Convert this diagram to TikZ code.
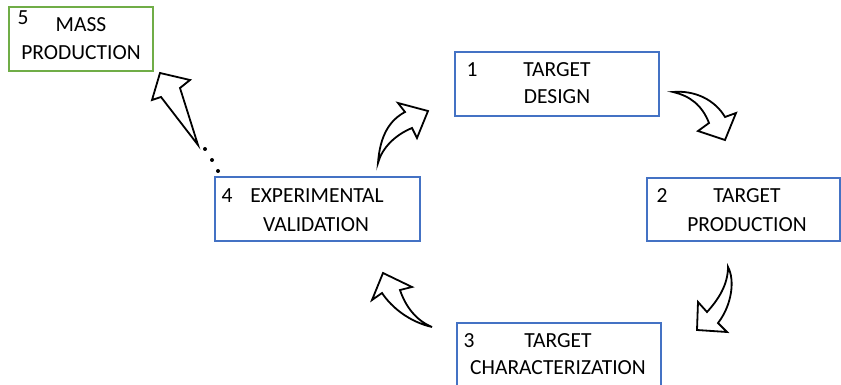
\documentclass[tikz,border=0pt]{standalone}
\usepackage{fontspec}
\setmainfont{Carlito}
\definecolor{boxblue}{RGB}{68,114,196}
\definecolor{boxgreen}{RGB}{112,173,71}
\tikzset{
  stepbox/.style={draw=boxblue,line width=2.9pt,inner sep=0pt},
  blockarrow/.style={draw=black,line width=1.8pt,fill=white,line join=miter},
  lbl/.style={anchor=base,inner sep=0pt,font=\fontsize{21.5}{26}\selectfont}
}
\begin{document}
\begin{tikzpicture}[x=1pt,y=-1pt]%cycle
\useasboundingbox (0,0) rectangle (841,385);
% boxes
\node[stepbox,draw=boxgreen,minimum width=144,minimum height=64] (massbox) at (81,39) {};
\node[stepbox,minimum width=204,minimum height=64] (designbox) at (557,84) {};
\node[stepbox,minimum width=193,minimum height=63] (prodbox) at (743.5,209.5) {};
\node[stepbox,minimum width=205,minimum height=64] (validbox) at (317.5,209) {};
\node[stepbox,minimum width=204,minimum height=63] (charbox) at (559,354.5) {};
% texts
\node[lbl] (n5) at (23,25) {5};
\node[lbl] (mass1) at (81,32) {MASS};
\node[lbl] (mass2) at (81,60) {PRODUCTION};
\node[lbl] (n1) at (472,77) {1};
\node[lbl] (design1) at (557,77) {TARGET};
\node[lbl] (design2) at (557,104) {DESIGN};
\node[lbl] (n2) at (662,202) {2};
\node[lbl] (prod1) at (747,202) {TARGET};
\node[lbl] (prod2) at (747,231) {PRODUCTION};
\node[lbl] (n4) at (227,203) {4};
\node[lbl] (valid1) at (317,203) {EXPERIMENTAL};
\node[lbl] (valid2) at (316,231) {VALIDATION};
\node[lbl] (n3) at (469,347) {3};
\node[lbl] (char1) at (558,347) {TARGET};
\node[lbl] (char2) at (558,374) {CHARACTERIZATION};
% curved arrows
\draw[blockarrow] (378,163) .. controls (380,135) and (390,120) .. (405,112) -- (398,103) -- (428,111) -- (417,138) -- (412,128)
  .. controls (395,135) and (382,148) .. (378,163) -- cycle;
\draw[blockarrow] (673,92) .. controls (695,90) and (715,100) .. (725,117) -- (736,113) -- (725,140) -- (698,131) -- (709,123)
  .. controls (702,105) and (690,96) .. (673,92) -- cycle;
\draw[blockarrow] (728,267) .. controls (735,280) and (732,305) .. (718,323) -- (727,332) -- (697,330) -- (698,302) -- (707,312)
  .. controls (718,300) and (728,285) .. (728,267) -- cycle;
\draw[blockarrow] (432,327) .. controls (410,322) and (392,308) .. (382,293) -- (372,300) -- (383,273) -- (412,287) -- (400,290)
  .. controls (405,305) and (415,320) .. (432,327) -- cycle;
% straight arrow and dots
\draw[blockarrow] (198,145) -- (161,97) -- (152,100) -- (160,73) -- (190,80) -- (180,88) -- cycle;
\foreach \p in {(205,149),(212,160),(218,171)}
  \fill \p circle (2);
\end{tikzpicture}
\end{document}
